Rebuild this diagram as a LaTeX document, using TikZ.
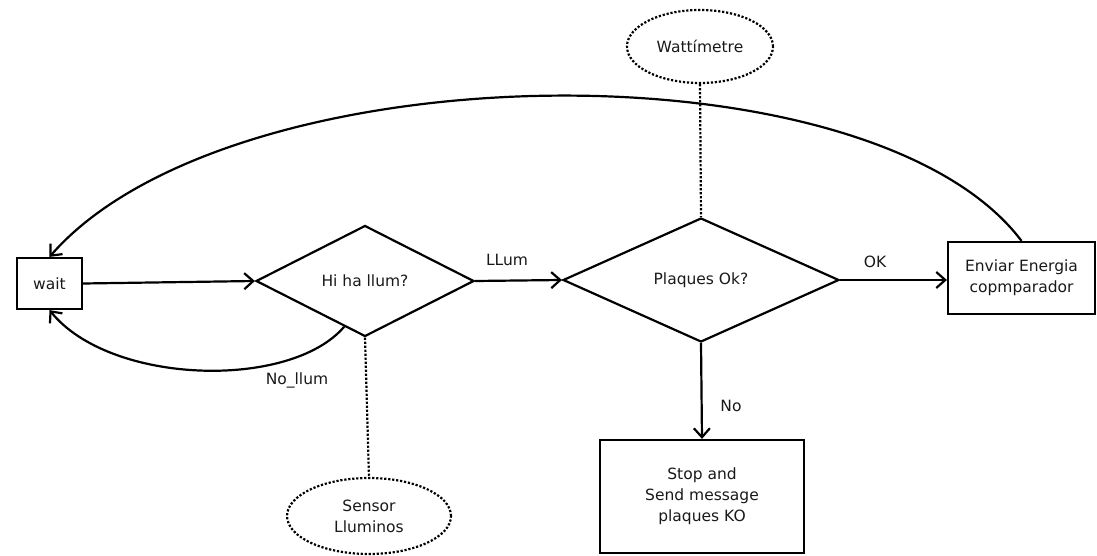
\documentclass[tikz,border=0pt]{standalone}
\usepackage{fontspec}
\setmainfont{DejaVu Sans}
\usetikzlibrary{shapes.geometric,arrows.meta,calc}
\begin{document}
\begin{tikzpicture}[x=1pt,y=-1pt,
  every node/.style={font=\fontsize{15.5}{21}\selectfont, text=black!90},
  box/.style={draw=black, line width=2.2pt, rectangle, inner sep=0pt, align=center},
  dec/.style={draw=black, line width=2.2pt, diamond, inner sep=0pt, align=center},
  oval/.style={draw=black, line width=2.2pt, ellipse, inner sep=0pt, align=center, dash pattern=on 2.2pt off 1.8pt},
  conn/.style={line width=2.2pt, -{Straight Barb[length=9pt,width=16pt,line width=2.2pt]}},
  dots/.style={line width=2.2pt, dash pattern=on 2.2pt off 1.8pt},
  lbl/.style={inner sep=0pt}]
\useasboundingbox (0,0) rectangle (1097,556);
\node[box, minimum width=65pt, minimum height=51pt] (wait) at (49.5,283.5) {wait};
\node[dec, minimum width=218pt, minimum height=111pt] (d1) at (365,281) {Hi ha llum?};
\node[dec, minimum width=276pt, minimum height=124pt] (d2) at (701,280) {Plaques Ok?};
\node[box, minimum width=147pt, minimum height=72pt] (env) at (1021.5,278) {Enviar Energia\\copmparador};
\node[box, minimum width=204pt, minimum height=113pt] (stop) at (702,496.5) {Stop and\\Send message\\plaques KO};
\node[oval, minimum width=146pt, minimum height=73pt] (watt) at (700,46.5) {Wattímetre};
\node[oval, minimum width=164pt, minimum height=76pt] (sens) at (369,516) {Sensor\\Lluminos};

\draw[conn] (wait.east) -- (d1.west);
\draw[conn] (d1.east) -- (d2.west);
\draw[conn] (d2.east) -- (d2.east -| env.west);
\draw[conn] (d2.south) -- (stop.north);
\draw[conn] (env.north) .. controls (870,40) and (230,50) .. (wait.north);
\coordinate (nl) at ($(d1.south)!0.19!(d1.west)$);
\draw[conn] (nl) .. controls (290,390) and (110,385) .. (wait.south);
\draw[dots] (watt.south) -- (d2.north);
\draw[dots] (d1.south) -- (sens.north);

\node[lbl] (l1) at (507,260) {LLum};
\node[lbl] (l2) at (875,262) {OK};
\node[lbl] (l3) at (731,406) {No};
\node[lbl] (l4) at (297,380) {No\_llum};
\end{tikzpicture}
\end{document}
